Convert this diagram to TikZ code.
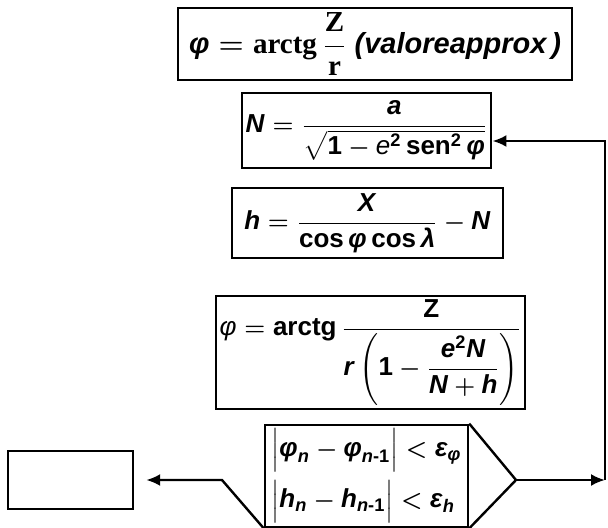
\documentclass[tikz,border=0pt]{standalone}
\usepackage{amsmath}
\usepackage{fontspec}
\setmainfont{Liberation Sans}
\newfontfamily\serifbf{Liberation Serif}[BoldFont={* Bold}]
\usepackage{tikz}
\usetikzlibrary{arrows.meta,positioning,calc}

\newcommand\vb[1]{\textbf{\textit{#1}}}
\newcommand\ub[1]{\textbf{#1}}

\begin{document}
\begin{tikzpicture}[
  x=0.5pt, y=-0.5pt,
  box/.style={rectangle, draw, line width=1.2pt, inner sep=2pt},
  arrow/.style={-{Latex[length=7pt,width=6pt]}, line width=1.2pt},
  line/.style={line width=1.2pt},
  font=\mathversion{bold}\fontsize{13}{15}\selectfont
]
  \useasboundingbox (0,0) rectangle (608,528);

  \node[box, minimum width=197pt, minimum height=36pt, font=\mathversion{bold}\fontsize{14.5}{17}\selectfont] (approx) at (375,44)
    {$\vb{φ}=\text{\serifbf\bfseries arctg}\,\dfrac{\text{\serifbf\bfseries Z}}{\text{\serifbf\bfseries r}}\ \text{\bfseries\itshape (valoreapprox\,)}$};
  \node[box, minimum width=118.5pt, minimum height=37.5pt] (N) at (366.5,130.5)
    {$\vb{N}=\dfrac{\vb{a}}{\sqrt{\ub{1}-\textit{e}^{\ub{2}}\,\ub{sen}^{\ub{2}}\,\vb{φ}}}$};
  \node[box, minimum width=135.5pt, minimum height=35pt] (h) at (367.5,223)
    {$\vb{h}=\dfrac{\vb{X}}{\ub{cos}\,\vb{φ}\,\ub{cos}\,\vb{λ}}-\vb{N}$};
  \node[box, minimum width=137.5pt, minimum height=54.5pt] (lat) at (370.5,352.5)
    {$\textit{φ}=\ub{arctg}\,\dfrac{\ub{Z}}{\vb{r}\left(\ub{1}-\dfrac{\vb{e}^{\ub{2}}\vb{N}}{\vb{N}+\vb{h}}\right)}$};
  \node[box, minimum width=101.5pt, minimum height=51pt, align=left] (test) at (366.5,476)
    {$\Bigl|\vb{φ}_{\vb{n}}-\vb{φ}_{\vb{n}\ub{-1}}\Bigr|<\vb{ε}_{\vb{φ}}$\\[3pt]
     $\Bigl|\vb{h}_{\vb{n}}-\vb{h}_{\vb{n}\ub{-1}}\Bigr|<\vb{ε}_{\vb{h}}$};
  \node[box, minimum width=62.5pt, minimum height=29pt] (stop) at (70.5,480) {};

  \coordinate (tip) at (516,480);
  \coordinate (bend) at (222,480);
  \coordinate (corner) at (605,480);
  \coordinate (up) at (605,141);

  \draw[line] (test.north east) -- (tip) -- (test.south east);
  \draw[arrow] (test.south west) -- (bend) -- ([xshift=6pt]stop.east);
  \draw[arrow] (tip) -- (corner);
  \draw[arrow] (corner) -- (up) -- (up -| N.east);
\end{tikzpicture}
\end{document}
